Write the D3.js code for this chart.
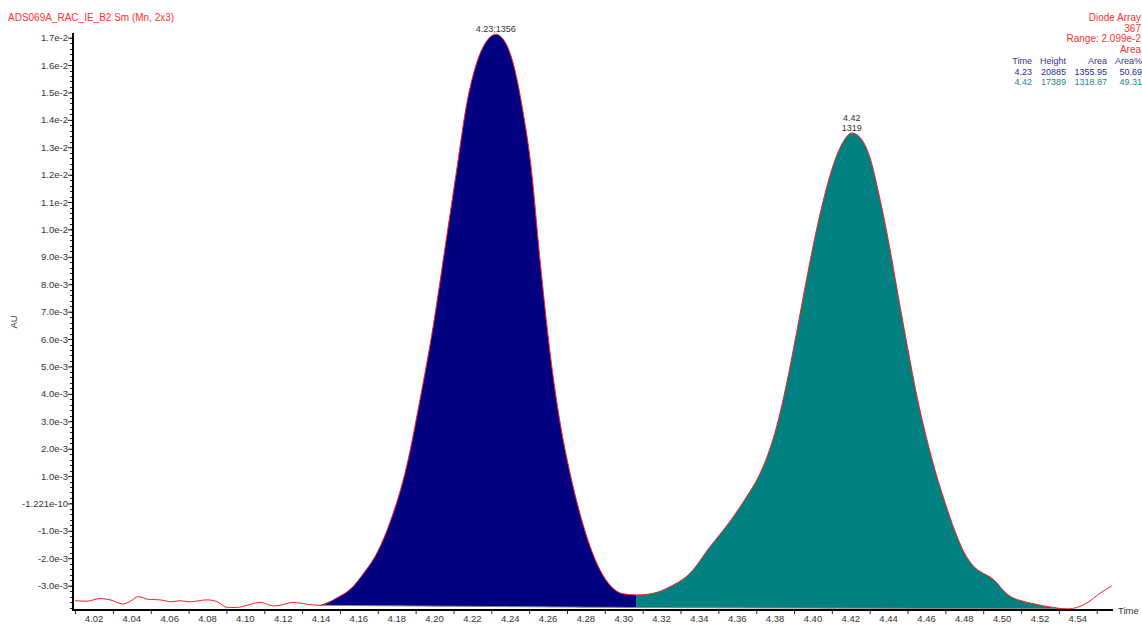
<!DOCTYPE html>
<html><head><meta charset="utf-8">
<script src="https://cdn.jsdelivr.net/npm/d3@7"></script>
<style>
html,body{margin:0;padding:0;background:#fff;}
svg{display:block;font-family:"Liberation Sans",Arial,sans-serif;}
</style></head>
<body>
<script>
// ---- data ----
const times = [4.0100,4.0161,4.0232,4.0285,4.0355,4.0390,4.0434,4.0487,4.0549,4.0611,4.0655,4.0707,4.0796,4.0849,4.0901,4.0954,4.1007,4.1077,4.1148,4.1183,4.1253,4.1324,4.1394,
  4.1483,4.1560,4.1623,4.1700,4.1765,4.1853,4.1923,4.1993,4.2064,4.2117,4.2170,4.2223,4.2276,4.2324,
  4.2372,4.2420,4.2465,4.2510,4.2557,4.2610,4.2663,4.2716,4.2769,4.2839,4.2910,4.2998,4.3068,
  4.3156,4.3244,4.3350,4.3456,4.3562,4.3650,4.3710,4.3760,4.3810,4.3860,4.3910,4.3960,4.4010,4.4060,4.4110,4.4160,4.4205,
  4.4250,4.4300,4.4350,4.4400,4.4450,4.4500,4.4550,4.4600,4.4650,4.4700,4.4750,4.4800,4.4850,4.4900,4.4940,4.4970,4.5004,4.5050,4.5100,4.5173,4.5253,4.5348,4.5447,4.5517,4.5579];
const au = [-3.55,-3.57,-3.47,-3.52,-3.67,-3.58,-3.40,-3.50,-3.52,-3.59,-3.55,-3.59,-3.52,-3.58,-3.79,-3.80,-3.72,-3.61,-3.74,-3.72,-3.61,-3.68,-3.72,
  -3.45,-3.10,-2.57,-1.75,-0.68,1.37,3.78,6.48,9.73,12.17,14.58,16.08,16.88,17.12,
  16.85,15.95,14.40,12.30,8.92,5.53,2.97,1.11,-0.38,-1.88,-2.83,-3.30,-3.34,
  -3.28,-3.04,-2.55,-1.58,-0.65,0.25,0.95,1.75,2.85,4.35,6.10,7.95,9.70,11.20,12.40,13.20,13.52,
  13.35,12.65,11.25,9.55,7.60,5.70,3.90,2.40,1.10,0.00,-1.00,-1.80,-2.30,-2.55,-2.70,-2.88,-3.16,-3.42,-3.55,-3.67,-3.78,-3.85,-3.64,-3.28,-3.01].map(v => v * 1e-3);

const peakRT = [4.2324, 4.4205];
const peakTop = [17.12e-3, 13.52e-3];
const peakLabels = [["4.23;1356"], ["4.42", "1319"]];
const peakStart = [4.1394, 4.3068];
const peakEnd = [4.3068, 4.5348];
const baseStart = [-3.72e-3, -3.80e-3];
const baseEnd = [-3.80e-3, -3.85e-3];
const peakColors = ["#000080", "#008080"];

const yTickValues = [-3e-3,-2e-3,-1e-3,0,1e-3,2e-3,3e-3,4e-3,5e-3,6e-3,7e-3,8e-3,9e-3,10e-3,11e-3,12e-3,13e-3,14e-3,15e-3,16e-3,17e-3];
const yTickLabels = ["-3.0e-3","-2.0e-3","-1.0e-3","-1.221e-10","1.0e-3","2.0e-3","3.0e-3","4.0e-3","5.0e-3","6.0e-3","7.0e-3","8.0e-3","9.0e-3","1.0e-2","1.1e-2","1.2e-2","1.3e-2","1.4e-2","1.5e-2","1.6e-2","1.7e-2"];
const xLabelValues = [4.02,4.04,4.06,4.08,4.10,4.12,4.14,4.16,4.18,4.20,4.22,4.24,4.26,4.28,4.30,4.32,4.34,4.36,4.38,4.40,4.42,4.44,4.46,4.48,4.50,4.52,4.54];
const xTickValues = [4.01,4.03,4.05,4.07,4.09,4.11,4.13,4.15,4.17,4.19,4.21,4.23,4.25,4.27,4.29,4.31,4.33,4.35,4.37,4.39,4.41,4.43,4.45,4.47,4.49,4.51,4.53,4.55];

const titleText = "ADS069A_RAC_IE_B2 Sm (Mn, 2x3)";
const headerLines = ["Diode Array", "367", "Range: 2.099e-2", "Area"];
const tableCols = ["Time", "Height", "Area", "Area%"];
const tableRows = [["4.23","20885","1355.95","50.69"],["4.42","17389","1318.87","49.31"]];

// ---- drawing ----
const W = 1142, H = 627;
const svg = d3.select("body").append("svg").attr("width", W).attr("height", H);

const x = d3.scaleLinear().domain([4.0089, 4.5586]).range([73, 1113]);
const y = d3.scaleLinear().domain([-3.89e-3, 17.17e-3]).range([610, 33]);

const pts = times.map((t, i) => [t, au[i]]);
const curve = d3.curveMonotoneX;

// peak fills
peakStart.forEach((s, k) => {
  const e = peakEnd[k];
  const seg = pts.filter(p => p[0] >= s - 1e-9 && p[0] <= e + 1e-9);
  const base = d3.scaleLinear().domain([s, e]).range([baseStart[k], baseEnd[k]]);
  const area = d3.area().x(p => x(p[0])).y0(p => y(base(p[0]))).y1(p => y(p[1])).curve(curve);
  svg.append("path").datum(seg).attr("d", area).attr("fill", peakColors[k]).attr("stroke", "none");
  svg.append("line")
    .attr("x1", x(s)).attr("x2", x(e)).attr("y1", y(baseStart[k])).attr("y2", y(baseEnd[k]))
    .attr("stroke", "#888").attr("stroke-width", 1);
});

// trace
const line = d3.line().x(p => x(p[0])).y(p => y(p[1])).curve(curve);
svg.append("path").datum(pts).attr("d", line).attr("fill", "none").attr("stroke", "#ff2020").attr("stroke-width", 1);

// y axis
const yAxis = d3.axisLeft(y).tickValues(yTickValues).tickSize(5).tickFormat((d, i) => yTickLabels[i]);
const gy = svg.append("g").attr("transform", "translate(73,0)").call(yAxis);
gy.select(".domain").remove();
gy.selectAll("text").attr("font-size", 9.5).attr("fill", "#333").attr("font-family", "Liberation Sans, Arial, sans-serif").attr("x", -5);
gy.selectAll("line").attr("stroke", "#222");
const yMinor = d3.range(-3.8e-3, 17.1e-3, 0.2e-3);
svg.append("g").selectAll("line").data(yMinor).join("line")
  .attr("x1", 70).attr("x2", 73).attr("y1", d => Math.round(y(d)) + 0.5).attr("y2", d => Math.round(y(d)) + 0.5)
  .attr("stroke", "#222").attr("stroke-width", 1);
svg.append("line").attr("x1", 73).attr("x2", 73).attr("y1", y.range()[1]).attr("y2", 611)
  .attr("stroke", "#000").attr("stroke-width", 2);

// x axis
const xAxis = d3.axisBottom(x).tickValues(xTickValues).tickSize(4).tickFormat("");
const gx = svg.append("g").attr("transform", "translate(0,610)").call(xAxis);
gx.select(".domain").remove();
gx.selectAll("line").attr("stroke", "#222");
svg.append("g").selectAll("text").data(xLabelValues).join("text")
  .attr("x", d => x(d)).attr("y", 622).attr("text-anchor", "middle")
  .attr("font-size", 9.5).attr("fill", "#333").text(d => d.toFixed(2));
svg.append("line").attr("x1", 72).attr("x2", 1113).attr("y1", 610).attr("y2", 610)
  .attr("stroke", "#000").attr("stroke-width", 2);
svg.append("text").attr("x", 1118).attr("y", 614).attr("font-size", 9.5).attr("fill", "#333").text("Time");

// y label
svg.append("text").attr("transform", "translate(17,322) rotate(-90)").attr("text-anchor", "middle")
  .attr("font-size", 9.5).attr("fill", "#333").text("AU");

// peak labels
peakRT.forEach((t, k) => {
  const lines = peakLabels[k];
  lines.forEach((s, j) => {
    svg.append("text").attr("x", x(t)).attr("y", y(peakTop[k]) - 2 - (lines.length - 1 - j) * 10.5)
      .attr("text-anchor", "middle").attr("font-size", 9).attr("fill", "#333").text(s);
  });
});

// title
svg.append("text").attr("x", 8).attr("y", 21).attr("font-size", 10).attr("fill", "#ff3030").text(titleText);

// header right
headerLines.forEach((s, i) => {
  svg.append("text").attr("x", 1141).attr("y", 21 + i * 10.7).attr("text-anchor", "end")
    .attr("font-size", 10).attr("fill", "#ff3030").text(s);
});
const colRight = [1032, 1066, 1107, 1142];
tableCols.forEach((s, c) => {
  svg.append("text").attr("x", colRight[c]).attr("y", 64).attr("text-anchor", "end")
    .attr("font-size", 9).attr("fill", "#33338a").text(s);
});
tableRows.forEach((row, r) => {
  row.forEach((s, c) => {
    svg.append("text").attr("x", colRight[c]).attr("y", 74.5 + r * 10.6).attr("text-anchor", "end")
      .attr("font-size", 9).attr("fill", peakColors[r] === "#000080" ? "#2a2a90" : "#1a8a8a").text(s);
  });
});
</script>
</body></html>
